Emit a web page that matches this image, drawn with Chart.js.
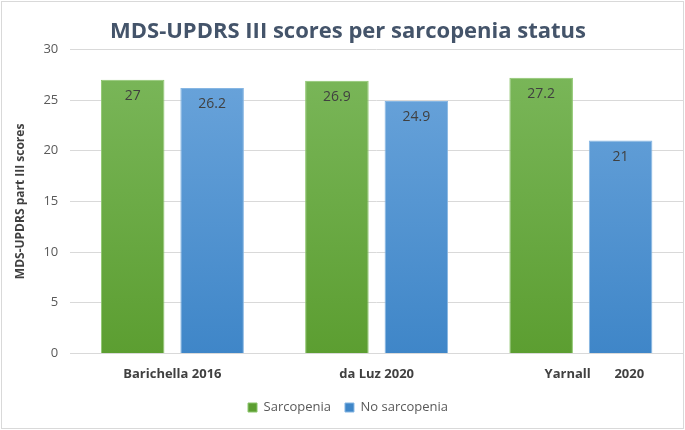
<!DOCTYPE html>
<html>
<head>
<meta charset="utf-8">
<script src="https://cdn.jsdelivr.net/npm/chart.js@4"></script>
<style>
  html, body { margin: 0; padding: 0; background: #fff; }
  #wrap { width: 685px; height: 430px; }
</style>
</head>
<body>
<div id="wrap"><canvas id="chart" width="685" height="430"></canvas></div>
<script>
// Data
const studies = ['Barichella 2016', 'da Luz 2020', '        Yarnall       2020'];
const sarcopenia = [27, 26.9, 27.2];
const noSarcopenia = [26.2, 24.9, 21];
const yTicks = [0, 5, 10, 15, 20, 25, 30];

const FONT = '"Open Sans", "Noto Sans", sans-serif';

// vertical gradient for the bars
function barFill(top, bottom) {
    return function(ctx) {
        const area = ctx.chart.chartArea;
        if (!area) return bottom;
        const g = ctx.chart.ctx.createLinearGradient(0, area.top, 0, area.bottom);
        g.addColorStop(0, top);
        g.addColorStop(1, bottom);
        return g;
    };
}

// frame + white background
const framePlugin = {
    id: 'frame',
    beforeDraw(chart) {
        const c = chart.ctx;
        c.save();
        c.fillStyle = '#fff';
        c.fillRect(0, 0, chart.width, chart.height);
        c.strokeStyle = '#d9d9d9';
        c.lineWidth = 1;
        c.strokeRect(1.5, 1.5, chart.width - 3, chart.height - 3);
        c.restore();
    }
};

// value labels just inside the top of each bar
const valueLabels = {
    id: 'valueLabels',
    afterDatasetsDraw(chart) {
        const c = chart.ctx;
        c.save();
        c.font = '14px ' + FONT;
        c.fillStyle = '#404040';
        c.textAlign = 'center';
        c.textBaseline = 'middle';
        chart.data.datasets.forEach((ds, i) => {
            chart.getDatasetMeta(i).data.forEach((bar, j) => {
                c.fillText(String(ds.data[j]), bar.x, bar.y + 16);
            });
        });
        c.restore();
    }
};

new Chart(document.getElementById('chart'), {
    type: 'bar',
    data: {
        labels: studies,
        datasets: [
            {
                label: 'Sarcopenia',
                data: sarcopenia,
                backgroundColor: barFill('#7cb85c', '#5c9e31'),
                borderColor: '#8cc56c',
                borderWidth: 1
            },
            {
                label: 'No sarcopenia',
                data: noSarcopenia,
                backgroundColor: barFill('#6da6dc', '#3f86c8'),
                borderColor: '#86b6e3',
                borderWidth: 1
            }
        ]
    },
    options: {
        responsive: false,
        animation: false,
        categoryPercentage: 0.778,
        barPercentage: 0.8,
        layout: { padding: { left: 13, right: 2, top: 3, bottom: 6 } },
        plugins: {
            title: {
                display: true,
                text: 'MDS-UPDRS III scores per sarcopenia status',
                color: '#44546a',
                font: { family: FONT, size: 22, weight: 'bold' },
                padding: { top: 16, bottom: 4 }
            },
            legend: {
                position: 'bottom',
                labels: {
                    color: '#595959',
                    font: { family: FONT, size: 13 },
                    boxWidth: 9,
                    boxHeight: 9,
                    padding: 14
                }
            },
            tooltip: { enabled: false }
        },
        scales: {
            x: {
                grid: { display: false },
                border: { color: '#d9d9d9' },
                ticks: {
                    color: '#404040',
                    font: { family: FONT, size: 13, weight: 'bold' },
                    padding: 5
                }
            },
            y: {
                min: 0,
                max: 30,
                afterBuildTicks(axis) {
                    axis.ticks = yTicks.map(v => ({ value: v }));
                },
                grid: { color: '#d9d9d9', drawTicks: false },
                border: { display: false },
                ticks: {
                    color: '#595959',
                    font: { family: FONT, size: 13 },
                    padding: 12
                },
                title: {
                    display: true,
                    text: 'MDS-UPDRS part III scores',
                    color: '#404040',
                    font: { family: FONT, size: 12, weight: 'bold' },
                    padding: { top: 0, bottom: 4 }
                }
            }
        }
    },
    plugins: [framePlugin, valueLabels]
});
</script>
</body>
</html>
